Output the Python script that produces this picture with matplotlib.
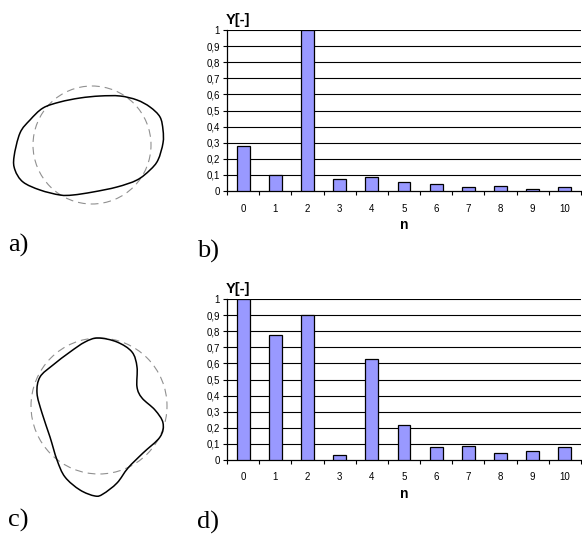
import numpy as np
import matplotlib
matplotlib.use("Agg")
import matplotlib.pyplot as plt
from matplotlib.path import Path
from matplotlib.patches import PathPatch, Circle

plt.rcParams['font.family'] = ['Liberation Sans', 'DejaVu Sans']

# ---- data ----
harmonics = list(range(11))
tick_labels = [str(h) for h in harmonics]
y_ticks = [0, 0.1, 0.2, 0.3, 0.4, 0.5, 0.6, 0.7, 0.8, 0.9, 1.0]
y_tick_labels = ["0", "0,1", "0,2", "0,3", "0,4", "0,5", "0,6", "0,7", "0,8", "0,9", "1"]
values_b = [0.282, 0.099, 1.0, 0.074, 0.089, 0.056, 0.041, 0.025, 0.031, 0.014, 0.023]
values_d = [1.0, 0.778, 0.899, 0.031, 0.627, 0.217, 0.083, 0.087, 0.043, 0.054, 0.083]

# contour of shape a (pixel coords)
shape_a_x = [14, 20, 30, 43, 60, 80, 100, 120, 137, 150, 160, 163, 163, 158, 150, 137, 117, 93, 73, 60, 40, 23, 15]
shape_a_y = [157, 133, 120, 108, 102, 98, 96, 96, 100, 107, 117, 130, 143, 160, 170, 180, 187, 192, 195, 195, 190, 182, 170]
circle_a = (92, 145, 59)

shape_c_x = [98, 117, 132, 137, 137, 142, 155, 163, 160, 143, 128, 117, 103, 95, 80, 65, 57, 50, 42, 37, 40, 53, 70, 85]
shape_c_y = [338, 342, 352, 367, 387, 398, 410, 423, 437, 453, 468, 483, 494, 496, 490, 477, 460, 437, 413, 393, 377, 365, 352, 342]
circle_c = (99, 406, 68)

W, H = 582, 535
fig = plt.figure(figsize=(W / 100, H / 100), dpi=100)

bar_color = '#9999FF'


def bar_axes(rect, values):
    ax = fig.add_axes(rect)
    ax.bar(harmonics, values, width=0.4, color=bar_color, edgecolor='black', linewidth=0.9, zorder=3)
    ax.set_xlim(-0.5, 10.5)
    ax.set_ylim(0, 1)
    ax.set_yticks(y_ticks)
    ax.set_yticklabels(y_tick_labels, fontsize=7)
    ax.set_xticks(harmonics)
    ax.set_xticklabels(tick_labels, fontsize=7)
    ax.tick_params(axis='x', length=0, pad=9)
    ax.set_xticks(np.arange(-0.5, 11, 1), minor=True)
    ax.tick_params(axis='x', which='minor', length=3, width=0.8, direction='out')
    ax.tick_params(axis='y', length=3, width=0.8, pad=2)
    for y in y_ticks[1:]:
        ax.axhline(y, color='black', linewidth=0.8, zorder=1)
    for s in ['top', 'right']:
        ax.spines[s].set_visible(False)
    ax.spines['left'].set_linewidth(0.9)
    ax.spines['bottom'].set_linewidth(0.9)
    ax.set_xlabel('n', fontsize=10, fontweight='bold', labelpad=3)
    ax.text(0.03, 1.065, 'Y[-]', transform=ax.transAxes, fontsize=10.5, fontweight='bold',
            ha='center', va='center')
    return ax


left = 227 / W
width = (581 - 227) / W
hgt = 161 / H
bar_axes([left, 1 - 191 / H, width, hgt], values_b)
bar_axes([left, 1 - 460 / H, width, hgt], values_d)

# overlay for shapes and panel letters
ov = fig.add_axes([0, 0, 1, 1], zorder=-1)
ov.set_xlim(0, W)
ov.set_ylim(H, 0)
ov.axis('off')


def smooth_closed(xs, ys):
    P = np.column_stack([xs, ys]).astype(float)
    n = len(P)
    verts = [P[0]]
    codes = [Path.MOVETO]
    for i in range(n):
        p0, p1, p2, p3 = P[i - 1], P[i], P[(i + 1) % n], P[(i + 2) % n]
        c1 = p1 + (p2 - p0) / 6.0
        c2 = p2 - (p3 - p1) / 6.0
        verts += [c1, c2, p2]
        codes += [Path.CURVE4] * 3
    return Path(verts, codes)


for cx, cy, r in [circle_a, circle_c]:
    ov.add_patch(Circle((cx, cy), r, fill=False, edgecolor='#909090', linewidth=0.8,
                        linestyle=(0, (7, 4.5))))

for xs, ys in [(shape_a_x, shape_a_y), (shape_c_x, shape_c_y)]:
    ov.add_patch(PathPatch(smooth_closed(xs, ys), fill=False, edgecolor='black', linewidth=1.1))

serif = ['Liberation Serif', 'DejaVu Serif']
for lab, x, y in [('a)', 8, 245), ('b)', 197, 251), ('c)', 8, 520), ('d)', 197, 522)]:
    ov.text(x, y, lab, fontsize=19, family=serif, ha='left', va='center')

fig.savefig('out.png', dpi=100)
